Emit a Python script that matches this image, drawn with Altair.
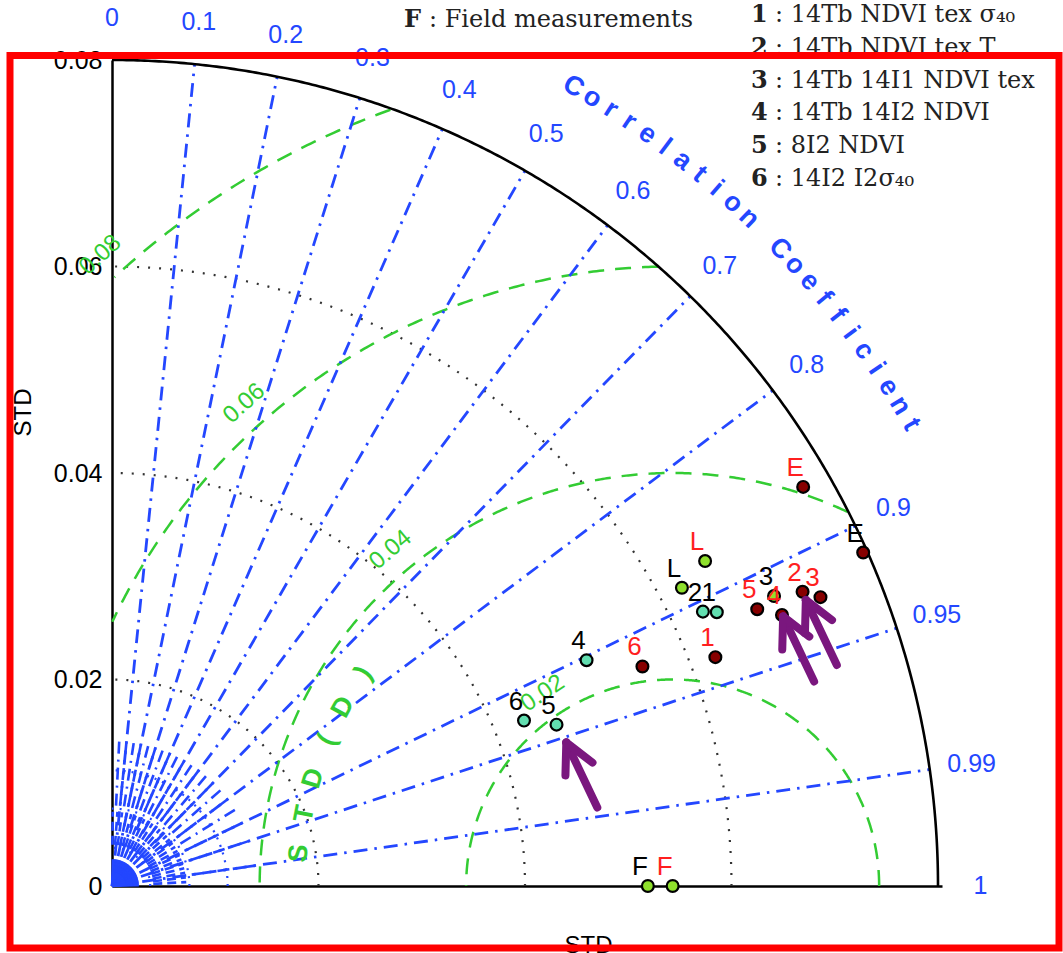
import altair as alt
import numpy as np
import pandas as pd

# ---------------- values ----------------
point_names = ["E", "E", "L", "L", "2", "1", "3", "5", "4", "2", "3", "1", "6", "4", "6", "5", "F", "F"]
point_sets = ["red", "black", "red", "black", "black", "black", "black", "red", "red",
              "red", "red", "red", "red", "black", "black", "black", "black", "red"]
point_std = [0.0773, 0.0796, 0.0655, 0.0623, 0.0631, 0.0643, 0.0700, 0.0680, 0.0700,
             0.0727, 0.0741, 0.0625, 0.0556, 0.0509, 0.0430, 0.0458, 0.0519, 0.0543]
point_corr = [0.866, 0.914, 0.877, 0.886, 0.907, 0.911, 0.916, 0.919, 0.927,
              0.920, 0.926, 0.935, 0.924, 0.903, 0.928, 0.940, 1.0, 1.0]
point_kind = ["dark", "dark", "lime", "lime", "aqua", "aqua", "lime", "dark", "dark",
              "dark", "dark", "dark", "dark", "aqua", "aqua", "aqua", "lime", "lime"]

corr_ticks = [0, 0.1, 0.2, 0.3, 0.4, 0.5, 0.6, 0.7, 0.8, 0.9, 0.95, 0.99, 1]
std_ticks = [0, 0.02, 0.04, 0.06, 0.08]
std_arcs = [0.02, 0.04, 0.06]
rmsd_levels = [0.02, 0.04, 0.06, 0.08]

legend_keys = ["1", "2", "3", "4", "5", "6"]
legend_texts = [": 14Tb NDVI tex σ₄₀", ": 14Tb NDVI tex T", ": 14Tb 14I1 NDVI tex",
                ": 14Tb 14I2 NDVI", ": 8I2 NDVI", ": 14I2 I2σ₄₀"]
field_key = "F"
field_text = ": Field measurements"

# arrow tips (x, y in STD units)
arrow_tip_x = [0.0440, 0.0650, 0.0672]
arrow_tip_y = [0.0139, 0.0261, 0.0277]

# ---------------- geometry / style ----------------
K = 10325.0            # pixels per STD unit
PW, PH = 830, 826      # plot area
PX = 1.0 / K
STD_MAX = 0.08
REF = point_std[-1]    # reference (field) standard deviation

SANS = "Liberation Sans"
SERIF = "DejaVu Serif"
BLUE = "#2447ff"
GREEN = "#33cc33"
RED = "#ff1f1f"
PURPLE = "#7a177e"

xs = alt.Scale(domain=[0, PW / K], nice=False, zero=False)
ys = alt.Scale(domain=[0, STD_MAX], nice=False, zero=False)

x_axis = alt.Axis(labels=False, ticks=False, grid=False, domainColor="black", domainWidth=2.5,
                  title="STD", titleFont=SANS, titleFontSize=24, titleFontWeight="normal",
                  titleColor="black", titleX=476, titleY=47, titleAlign="center",
                  titleBaseline="top")
y_axis = alt.Axis(values=std_ticks, ticks=False, grid=False, domainColor="black", domainWidth=2.5,
                  labelExpr="datum.value == 0 ? '0' : format(datum.value, '.2f')",
                  labelFont=SANS, labelFontSize=25, labelColor="black", labelPadding=10,
                  title="STD", titleFont=SANS, titleFontSize=24, titleFontWeight="normal",
                  titleColor="black", titleAngle=270, titleX=-89, titleY=352,
                  titleAlign="center", titleBaseline="middle")

X = alt.X("x:Q", scale=xs, axis=x_axis)
Y = alt.Y("y:Q", scale=ys, axis=y_axis)


def arc(cx, r, t0, t1, gid, n=360):
    t = np.radians(np.linspace(t0, t1, n))
    return pd.DataFrame({"x": cx + r * np.cos(t), "y": r * np.sin(t), "i": np.arange(n), "g": gid})


def rays(angles_deg, r0, r1, prefix):
    rows = []
    for k, a in enumerate(angles_deg):
        t = np.radians(a)
        for j, r in enumerate([r0, r1]):
            rows.append({"x": r * np.cos(t), "y": r * np.sin(t), "i": j, "g": f"{prefix}{k}"})
    return pd.DataFrame(rows)


def lines(df, **mark):
    return alt.Chart(df).mark_line(**mark).encode(x=X, y=Y, order="i:Q", detail="g:N")


# standard deviation arcs (dotted)
std_df = pd.concat([arc(0, r, 0, 90, f"s{r}") for r in std_arcs])
std_layer = lines(std_df, color="#333333", strokeWidth=2.2, strokeDash=[2, 9])

# RMS difference arcs around the reference point, kept inside the quarter disc
rm = []
for r in rmsd_levels:
    d = arc(REF, r, 0, 180, f"r{r}", n=600)
    d = d[(d.x >= 0) & (d.y >= 0) & (d.x ** 2 + d.y ** 2 <= STD_MAX ** 2 + 1e-12)].copy()
    d["i"] = np.arange(len(d))
    rm.append(d)
rmsd_layer = lines(pd.concat(rm), color=GREEN, strokeWidth=2.5, strokeDash=[16, 11])

# correlation rays
main_angles = [np.degrees(np.arccos(c)) for c in corr_ticks if 0 < c < 1]
corr_layer = lines(rays(main_angles, 0, STD_MAX, "c"), color=BLUE, strokeWidth=2.8,
                   strokeDash=[14, 7, 2.5, 7])

# dense fan around the origin
fan_inner = lines(rays(np.arange(1, 90, 2.0), 0, 0.0026, "f"), color=BLUE, strokeWidth=1.8)
fan_mid = lines(rays(np.arange(3, 90, 3.6), 0.0040, 0.0072, "m"), color=BLUE, strokeWidth=2.6,
                strokeDash=[9, 5])
half_angles = [np.degrees(np.arccos(c)) for c in np.arange(0.05, 0.9, 0.1)]
fan_out = lines(rays(half_angles + main_angles, 0.0078, 0.0145, "o"), color=BLUE, strokeWidth=2.6,
                strokeDash=[12, 6, 2, 6])
fan_rings = lines(pd.concat([arc(0, r, 0, 90, f"q{r}") for r in [0.0037, 0.0075, 0.0112]]),
                  color=BLUE, strokeWidth=2.2, strokeDash=[2, 6])

# outer boundary
outer_layer = lines(arc(0, STD_MAX, 0, 90, "outer"), color="black", strokeWidth=2.6)

# model / reference points
pts = pd.DataFrame({"name": point_names, "set": point_sets, "std": point_std,
                    "corr": point_corr, "kind": point_kind})
pts["x"] = pts["std"] * pts["corr"]
pts["y"] = pts["std"] * np.sqrt(np.clip(1 - pts["corr"] ** 2, 0, None))

point_layer = alt.Chart(pts).mark_circle(size=140, stroke="black", strokeWidth=2.2, opacity=1).encode(
    x=X, y=Y,
    fill=alt.Fill("kind:N", scale=alt.Scale(domain=["dark", "lime", "aqua"],
                                            range=["#870000", "#8fe02c", "#62deb0"]), legend=None))
point_text = alt.Chart(pts).mark_text(font=SANS, fontSize=26, dx=-8, dy=-19).encode(
    x=X, y=Y, text="name:N",
    color=alt.Color("set:N", scale=alt.Scale(domain=["red", "black"], range=[RED, "black"]),
                    legend=None))

# correlation tick labels
R_LAB = 0.0841
ct = pd.DataFrame({"c": corr_ticks})
ct["lab"] = [("%g" % c) for c in corr_ticks]
ct["x"] = R_LAB * ct["c"]
ct["y"] = R_LAB * np.sqrt(1 - ct["c"] ** 2)
corr_text = alt.Chart(ct).mark_text(font=SANS, fontSize=25, color=BLUE).encode(x=X, y=Y, text="lab:N")

# curved axis title
title = "Correlation Coefficient"
R_T = 0.0894
th = 60 - np.arange(len(title)) * 30.0 / (len(title) - 1)
tt = pd.DataFrame({"ch": list(title), "x": R_T * np.cos(np.radians(th)),
                   "y": R_T * np.sin(np.radians(th)), "rot": 90 - th})
tt = tt[tt.ch != " "]
title_text = alt.Chart(tt).mark_text(font=SANS, fontSize=27, fontWeight="bold", color=BLUE,
                                     baseline="middle").encode(
    x=X, y=Y, text="ch:N", angle=alt.Angle("rot:Q", scale=None))

# RMS difference labels
lab_ang = [124, 130, 131.6, 132.2]
rl = pd.DataFrame({"lab": ["%.2f" % v for v in rmsd_levels], "r": rmsd_levels, "a": lab_ang})
rl["x"] = REF + (rl.r + 0.0025) * np.cos(np.radians(rl.a))
rl["y"] = (rl.r + 0.0025) * np.sin(np.radians(rl.a))
rl["rot"] = 450 - rl.a
rmsd_text = alt.Chart(rl).mark_text(font=SANS, fontSize=24, color=GREEN).encode(
    x=X, y=Y, text="lab:N", angle=alt.Angle("rot:Q", scale=None))

rm_title = list("STD(D)")
rm_ang = np.array([175, 168.9, 163.3, 157.1, 151.5, 145.4])
R_RM = 375 * PX
rt = pd.DataFrame({"ch": rm_title, "x": REF + R_RM * np.cos(np.radians(rm_ang)),
                   "y": R_RM * np.sin(np.radians(rm_ang)), "rot": 450 - rm_ang})
rmsd_title = alt.Chart(rt).mark_text(font=SANS, fontSize=27, color=GREEN, fontWeight="bold").encode(
    x=X, y=Y, text="ch:N", angle=alt.Angle("rot:Q", scale=None))

# arrows
seg = []
back = np.array([31.0, -65.0])
back = back / np.linalg.norm(back)
for k, (tx, ty) in enumerate(zip(arrow_tip_x, arrow_tip_y)):
    tip = np.array([tx, ty])
    ends = [tip + back * 72 * PX]
    for s in (-27, 27):
        a = np.radians(s)
        rot = np.array([[np.cos(a), -np.sin(a)], [np.sin(a), np.cos(a)]]) @ back
        ends.append(tip + rot * 33 * PX)
    for j, e in enumerate(ends):
        seg.append({"x": tip[0], "y": tip[1], "i": 0, "g": f"a{k}{j}"})
        seg.append({"x": e[0], "y": e[1], "i": 1, "g": f"a{k}{j}"})
arrow_layer = lines(pd.DataFrame(seg), color=PURPLE, strokeWidth=8, strokeCap="round")

# legend text block (top right) and field note
lg = pd.DataFrame({"key": legend_keys, "txt": legend_texts, "row": range(len(legend_keys))})
lg["py"] = 15 + lg["row"] * 32.8 - 60
leg_keys = alt.Chart(lg).mark_text(font=SERIF, fontSize=24, fontWeight="bold", align="left",
                                   baseline="middle", color="#222222").encode(
    x=alt.value(751 - 112), y=alt.Y("py:Q", scale=None), text="key:N")
leg_txt = alt.Chart(lg).mark_text(font=SERIF, fontSize=24, align="left", baseline="middle",
                                  color="#222222").encode(
    x=alt.value(775 - 112), y=alt.Y("py:Q", scale=None), text="txt:N")
fd = pd.DataFrame({"key": [field_key], "txt": [field_text]})
field_k = alt.Chart(fd).mark_text(font=SERIF, fontSize=24, fontWeight="bold", align="left",
                                  baseline="middle", color="#222222").encode(
    x=alt.value(404 - 112), y=alt.value(20 - 60), text="key:N")
field_t = alt.Chart(fd).mark_text(font=SERIF, fontSize=24, align="left", baseline="middle",
                                  color="#222222").encode(
    x=alt.value(429 - 112), y=alt.value(20 - 60), text="txt:N")

# surrounding frame
frame = alt.Chart(pd.DataFrame({"a": [0]})).mark_rect(filled=False, stroke="red", strokeWidth=7).encode(
    x=alt.value(10 - 112), x2=alt.value(1059 - 112), y=alt.value(55.5 - 60), y2=alt.value(948 - 60))

chart = alt.layer(
    std_layer, rmsd_layer, fan_rings, fan_inner, fan_mid, fan_out, corr_layer, outer_layer,
    rmsd_text, rmsd_title, corr_text, title_text,
    point_layer, point_text, arrow_layer,
    leg_keys, leg_txt, field_k, field_t, frame,
).properties(
    width=PW, height=PH,
    padding={"left": 112, "top": 60, "right": 121, "bottom": 67},
    autosize=alt.AutoSizeParams(type="none"),
    background="white",
).configure_view(stroke=None)

chart.save("out.html", embed_options={"renderer": "svg", "actions": False})
